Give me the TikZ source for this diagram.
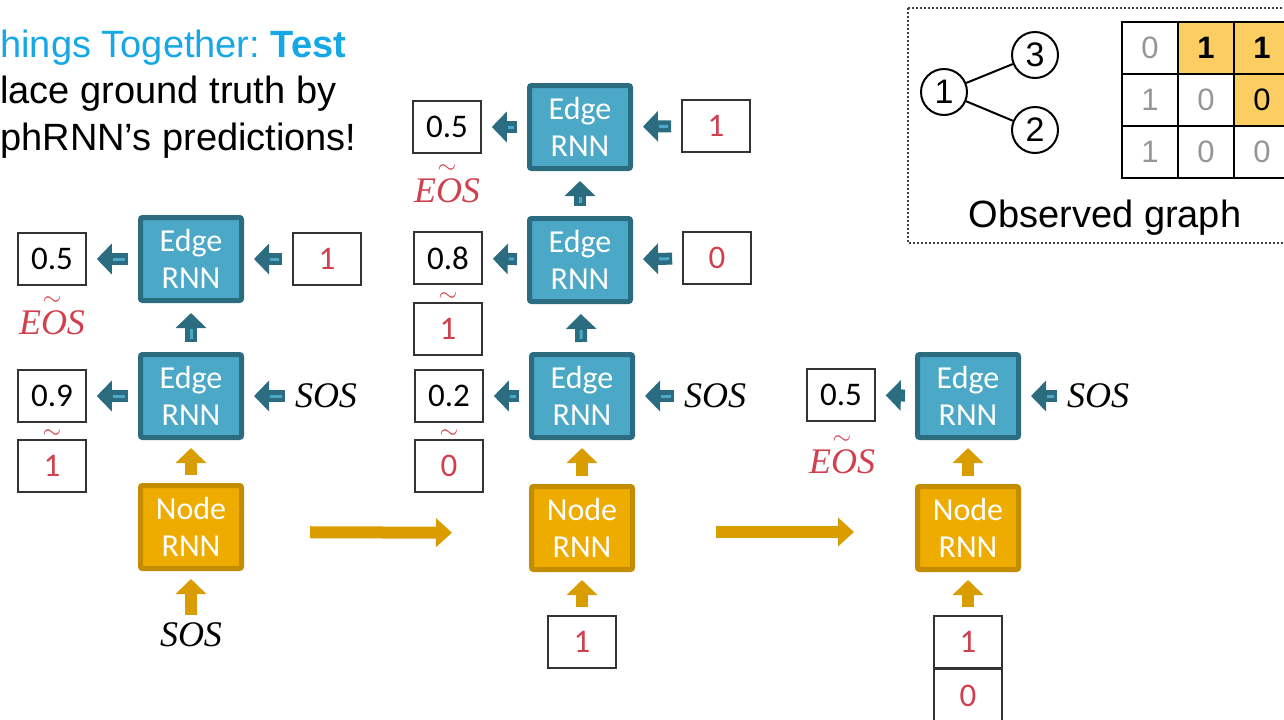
\documentclass[tikz,border=0pt]{standalone}
\usepackage{fontspec}
\setmainfont{Carlito}
\newfontfamily\arialfont{Liberation Sans}
\newfontfamily\timesfont{Liberation Serif}
\usetikzlibrary{positioning,arrows.meta}
\frenchspacing

\definecolor{edgefill}{RGB}{75,168,198}
\definecolor{edgeline}{RGB}{44,108,128}
\definecolor{nodefill}{RGB}{238,172,0}
\definecolor{nodeline}{RGB}{196,140,0}
\definecolor{arrowgold}{RGB}{218,157,0}
\definecolor{redtext}{RGB}{208,64,78}
\definecolor{titleblue}{RGB}{22,168,230}
\definecolor{cellyellow}{RGB}{252,206,98}
\definecolor{cellgray}{RGB}{150,150,150}

\begin{document}
\begin{tikzpicture}[x=0.5pt, y=-0.5pt,
    rnnbox/.style={rectangle, rounded corners=1pt, line width=2.5pt, minimum width=50.5pt, minimum height=41.5pt, inner sep=0pt, text=white, align=center, font=\fontsize{16}{18.5}\selectfont},
    edgebox/.style={rnnbox, fill=edgefill, draw=edgeline},
    nodebox/.style={rnnbox, fill=nodefill, draw=nodeline},
    valbox/.style={draw=black!80, line width=0.8pt, minimum width=34pt, minimum height=26pt, inner sep=0pt, font=\fontsize{16.5}{18}\selectfont},
    inbox/.style={valbox, text=redtext},
    token/.style={inner sep=0pt, font=\timesfont\itshape\fontsize{18}{20}\selectfont},
    twiddle/.style={inner sep=0pt, text=redtext, font=\fontsize{13}{13}\selectfont},
    eos/.style={token, text=redtext, label={[twiddle, label distance=2.5pt]above:$\sim$}},
    edgearrow/.style={draw=edgeline, line width=6pt, shorten <=5pt, shorten >=5pt, -{Triangle[width=15pt,length=7.5pt]}, postaction={draw=edgefill, line width=1.5pt, -, shorten <=6.5pt, shorten >=13pt}},
    goldarrow/.style={draw=arrowgold, line width=6pt, shorten <=4pt, shorten >=4pt, -{Triangle[width=15pt,length=7.5pt]}},
    titletext/.style={anchor=base west, inner sep=0pt, font=\arialfont\fontsize{19}{22}\selectfont},
    vcircle/.style={draw, circle, line width=1pt, minimum size=23pt, inner sep=0pt, font=\arialfont\fontsize{17}{17}\selectfont},
    cell/.style={draw, line width=1pt, minimum width=28pt, minimum height=26pt, inner sep=0pt, font=\arialfont\fontsize{15.5}{16}\selectfont}]
    \clip (0,0) rectangle (1284,719);

    % title
    \node[titletext, text=titleblue] (title) at (0,57) {hings Together: \textbf{Test}};
    \node[titletext] (line2) at (0,103) {lace ground truth by};
    \node[titletext] (line3) at (0,150) {phRNN’s predictions!};

    % observed graph
    \draw[black!75, line width=1pt, dash pattern=on 1pt off 1pt] (908,8) rectangle (1300,243);
    \node[vcircle] (v1) at (944,92) {1};
    \node[vcircle] (v3) at (1035,55) {3};
    \node[vcircle] (v2) at (1035,130) {2};
    \draw[line width=1pt] (v1) -- (v3);
    \draw[line width=1pt] (v1) -- (v2);
    \node[cell, text=cellgray] (c11) at (1150,48) {0};
    \node[cell, fill=cellyellow, font=\arialfont\bfseries\fontsize{15.5}{16}\selectfont] (c12) at (1206,48) {1};
    \node[cell, fill=cellyellow, font=\arialfont\bfseries\fontsize{15.5}{16}\selectfont] (c13) at (1262,48) {1};
    \node[cell, text=cellgray] (c21) at (1150,100) {1};
    \node[cell, text=cellgray] (c22) at (1206,100) {0};
    \node[cell, fill=cellyellow] (c23) at (1262,100) {0};
    \node[cell, text=cellgray] (c31) at (1150,152) {1};
    \node[cell, text=cellgray] (c32) at (1206,152) {0};
    \node[cell, text=cellgray] (c33) at (1262,152) {0};
    \node[anchor=base, inner sep=0pt, font=\arialfont\fontsize{19}{22}\selectfont] (obs) at (1105,227) {Observed graph};

    % first step
    \node[edgebox] (e12) at (191,259) {Edge\\RNN};
    \node[edgebox] (e11) at (191,396) {Edge\\RNN};
    \node[nodebox] (n1) at (191,527) {Node\\RNN};
    \node[valbox] (o12) at (52,259) {0.5};
    \node[eos] (eos1) at (52,323) {EOS};
    \node[valbox] (o11) at (52,396) {0.9};
    \node[twiddle] (tw11) at (52,434) {$\sim$};
    \node[inbox] (s11) at (52,466) {1};
    \node[inbox] (i12) at (327,259) {1};
    \node[token] (sos11) at (326,396) {SOS};
    \node[token] (sos1) at (191,635) {SOS};

    \draw[edgearrow] (e12) -- (o12);
    \draw[edgearrow] (i12) -- (e12);
    \draw[edgearrow] (e11) -- (o11);
    \draw[edgearrow] (sos11) -- (e11);
    \draw[edgearrow] (e11) -- (e12);
    \draw[goldarrow] (n1) -- (e11);
    \draw[goldarrow] (sos1) -- (n1);

    % second step
    \node[edgebox] (e23) at (580,127) {Edge\\RNN};
    \node[edgebox] (e22) at (580,260) {Edge\\RNN};
    \node[edgebox] (e21) at (582,396) {Edge\\RNN};
    \node[nodebox] (n2) at (582,528) {Node\\RNN};
    \node[valbox] (o23) at (447,127) {0.5};
    \node[eos] (eos2) at (447,191) {EOS};
    \node[valbox] (o22) at (448,258) {0.8};
    \node[twiddle] (tw22) at (448,297) {$\sim$};
    \node[inbox] (s22) at (448,329) {1};
    \node[valbox] (o21) at (449,396) {0.2};
    \node[twiddle] (tw21) at (449,434) {$\sim$};
    \node[inbox] (s21) at (449,466) {0};
    \node[inbox] (i23) at (716,126) {1};
    \node[inbox] (i22) at (717,258) {0};
    \node[token] (sos21) at (715,396) {SOS};
    \node[inbox] (b2) at (582,642) {1};

    \draw[edgearrow] (e23) -- (o23);
    \draw[edgearrow] (i23) -- (e23);
    \draw[edgearrow] (e22) -- (o22);
    \draw[edgearrow] (i22) -- (e22);
    \draw[edgearrow] (e21) -- (o21);
    \draw[edgearrow] (sos21) -- (e21);
    \draw[edgearrow] (e22) -- (e23);
    \draw[edgearrow] (e21) -- (e22);
    \draw[goldarrow] (n2) -- (e21);
    \draw[goldarrow] (b2) -- (n2);

    % third step
    \node[edgebox] (e31) at (968,396) {Edge\\RNN};
    \node[nodebox] (n3) at (968,528) {Node\\RNN};
    \node[valbox] (o31) at (841,395) {0.5};
    \node[eos] (eos3) at (842,462) {EOS};
    \node[token] (sos31) at (1098,396) {SOS};
    \node[inbox] (b31) at (968,642) {1};
    \node[inbox, below=0pt of b31] (b32) {0};

    \draw[edgearrow] (e31) -- (o31);
    \draw[edgearrow] (sos31) -- (e31);
    \draw[goldarrow] (n3) -- (e31);
    \draw[goldarrow] (b31) -- (n3);

    % steps
    \draw[goldarrow, shorten <=33pt, shorten >=38.5pt, -{Triangle[width=14pt,length=8pt]}] ([yshift=-2.5pt]n1.east) -- ([yshift=-2.5pt]n2.west);
    \draw[goldarrow, shorten <=40.5pt, shorten >=30.5pt, -{Triangle[width=14pt,length=8pt]}] ([yshift=-2pt]n2.east) -- ([yshift=-2pt]n3.west);
\end{tikzpicture}
\end{document}
